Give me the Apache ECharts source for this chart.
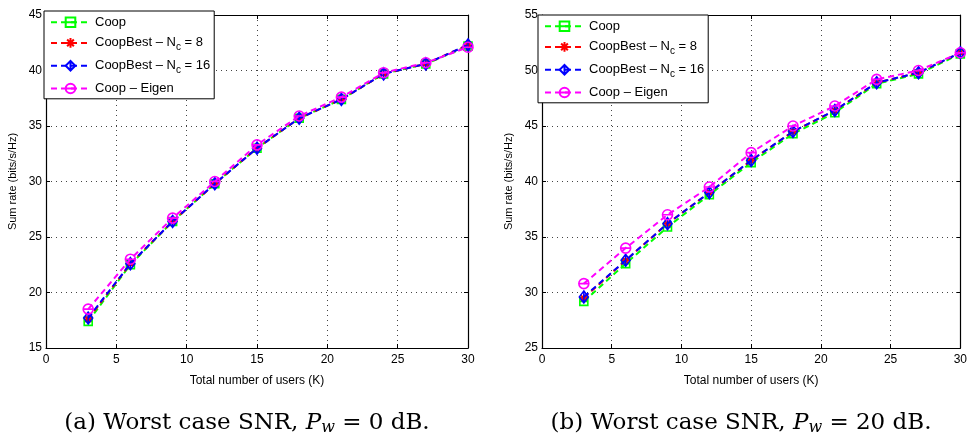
<!DOCTYPE html>
<html>
<head>
<meta charset="utf-8">
<script src="https://cdn.jsdelivr.net/npm/echarts@6/dist/echarts.min.js"></script>
<style>
  html, body { margin: 0; padding: 0; background: #fff; }
  #chart { width: 970px; height: 439px; }
</style>
</head>
<body>
<div id="chart"></div>
<script>
// number of users on the x axis
var users = [3, 6, 9, 12, 15, 18, 21, 24, 27, 30];
var seriesNames = ['Coop', 'CoopBest – Nc = 8', 'CoopBest – Nc = 16', 'Coop – Eigen'];

// (a) Pw = 0 dB
var coopA      = [17.4, 22.5, 26.4, 29.8, 33.0, 35.7, 37.4, 39.7, 40.6, 42.2];
var best8A     = [17.6, 22.6, 26.4, 29.8, 33.0, 35.7, 37.4, 39.7, 40.6, 42.3];
var best16A    = [17.7, 22.6, 26.4, 29.8, 33.0, 35.7, 37.4, 39.7, 40.6, 42.3];
var eigenA     = [18.5, 23.0, 26.7, 30.0, 33.3, 35.9, 37.6, 39.8, 40.7, 42.1];

// (b) Pw = 20 dB
var coopB      = [29.2, 32.6, 35.9, 38.8, 41.7, 44.3, 46.2, 48.8, 49.7, 51.5];
var best8B     = [29.5, 32.9, 36.2, 39.0, 41.9, 44.5, 46.4, 48.9, 49.8, 51.6];
var best16B    = [29.6, 32.9, 36.2, 39.0, 41.9, 44.5, 46.4, 48.9, 49.8, 51.6];
var eigenB     = [30.8, 34.0, 37.0, 39.5, 42.6, 45.0, 46.8, 49.2, 50.0, 51.6];

var sans = 'Liberation Sans, Arial, sans-serif';
var serif = 'DejaVu Serif, Liberation Serif, serif';

var colors = ['#00ff00', '#ff0000', '#0000ff', '#ff00ff'];
var symbols = [
    'path://M0,0H10V10H0Z M0,5H10',
    'path://M5,0V10 M0,5H10 M1.5,1.5L8.5,8.5 M8.5,1.5L1.5,8.5',
    'path://M5,0L10,5L5,10L0,5Z M5,0V10',
    'path://M0,5A5,5 0 1,0 10,5A5,5 0 1,0 0,5Z M0,5H10'
];
var symbolSizes = [8, 8, [9, 12], 10];

function pairs(vals) {
    return users.map(function (u, i) { return [u, vals[i]]; });
}

function makeSeries(k, vals, gi) {
    return {
        name: seriesNames[k],
        type: 'line',
        xAxisIndex: gi * 2,
        yAxisIndex: gi * 2,
        data: pairs(vals),
        symbol: symbols[k],
        symbolSize: symbolSizes[k],
        showAllSymbol: true,
        lineStyle: { color: colors[k], width: 2, type: [6, 4] },
        itemStyle: { color: 'none', borderColor: colors[k], borderWidth: 1.6 },
        z: 2 + k
    };
}

function legendFormatter(name) {
    var m = name.match(/^(CoopBest – N)c( = \d+)$/);
    if (m) return '{t|' + m[1] + '}{s|c}{t|' + m[2] + '}';
    return '{t|' + name + '}';
}

function makeLegend(left, top, fs) {
    return {
        data: seriesNames,
        orient: 'vertical',
        left: left,
        top: top,
        backgroundColor: '#fff',
        borderColor: '#000',
        borderWidth: 1,
        padding: [4, 4, 3, 6],
        itemWidth: 39,
        itemHeight: 12,
        itemGap: 6,
        formatter: legendFormatter,
        textStyle: {
            fontFamily: sans, color: '#000', fontSize: fs,
            rich: {
                t: { fontFamily: sans, fontSize: fs, color: '#000' },
                s: { fontFamily: sans, fontSize: fs - 3, color: '#000', padding: [9, 0, 0, 0] }
            }
        }
    };
}

function xAxes(gi) {
    var common = {
        type: 'value', gridIndex: gi, min: 0, max: 30, interval: 5,
        axisLine: { show: true, onZero: false, lineStyle: { color: '#000', width: 1.2 } },
        axisTick: { show: true, inside: true, length: 4, lineStyle: { color: '#000' } }
    };
    return [
        Object.assign({}, common, {
            position: 'bottom',
            name: 'Total number of users (K)',
            nameLocation: 'middle',
            nameGap: 27,
            nameTextStyle: { fontFamily: sans, fontSize: 12, color: '#000' },
            axisLabel: { fontFamily: sans, fontSize: 12, color: '#000', margin: 6 },
            splitLine: { show: true, lineStyle: { color: '#444', type: [1, 4], width: 1 } }
        }),
        Object.assign({}, common, {
            position: 'top',
            axisLabel: { show: false },
            splitLine: { show: false }
        })
    ];
}

function yAxes(gi, lo, hi) {
    var common = {
        type: 'value', gridIndex: gi, min: lo, max: hi, interval: 5,
        axisLine: { show: true, onZero: false, lineStyle: { color: '#000', width: 1.2 } },
        axisTick: { show: true, inside: true, length: 4, lineStyle: { color: '#000' } }
    };
    return [
        Object.assign({}, common, {
            position: 'left',
            name: 'Sum rate (bits/s/Hz)',
            nameLocation: 'middle',
            nameGap: 28,
            nameTextStyle: { fontFamily: sans, fontSize: 11, color: '#000' },
            axisLabel: { fontFamily: sans, fontSize: 12, color: '#000', margin: 4 },
            splitLine: { show: true, lineStyle: { color: '#444', type: [1, 4], width: 1 } }
        }),
        Object.assign({}, common, {
            position: 'right',
            axisLabel: { show: false },
            splitLine: { show: false }
        })
    ];
}

function caption(x, label, value) {
    return {
        type: 'text',
        x: x,
        y: 423,
        style: {
            text: '{r|(' + label + ') Worst case SNR, }{i|P}{sub|w}{r| = ' + value + ' dB.}',
            align: 'center',
            verticalAlign: 'middle',
            rich: {
                r: { fontFamily: serif, fontSize: 23, fill: '#000' },
                i: { fontFamily: serif, fontSize: 23, fontStyle: 'italic', fill: '#000' },
                sub: { fontFamily: serif, fontSize: 16, fontStyle: 'italic', fill: '#000', padding: [10, 0, 0, 0] }
            }
        }
    };
}

var chart = echarts.init(document.getElementById('chart'), null, { renderer: 'canvas' });

var series = [];
[coopA, best8A, best16A, eigenA].forEach(function (v, k) { series.push(makeSeries(k, v, 0)); });
[coopB, best8B, best16B, eigenB].forEach(function (v, k) { series.push(makeSeries(k, v, 1)); });

chart.setOption({
    animation: false,
    backgroundColor: '#fff',
    grid: [
        { left: 46, top: 15, width: 422, height: 333 },
        { left: 542, top: 15, width: 423, height: 333 }
    ],
    xAxis: xAxes(0).concat(xAxes(1)),
    yAxis: yAxes(0, 15, 45).concat(yAxes(1, 25, 55)),
    legend: [makeLegend(44, 11, 13), makeLegend(538, 15, 13)],
    series: series,
    graphic: [caption(247, 'a', '0'), caption(741, 'b', '20')]
});
</script>
</body>
</html>
